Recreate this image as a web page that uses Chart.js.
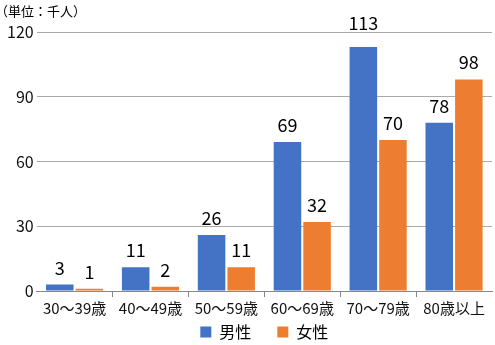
<!DOCTYPE html>
<html>
<head>
<meta charset="utf-8">
<script src="https://cdn.jsdelivr.net/npm/chart.js@4.4.1/dist/chart.umd.min.js"></script>
<style>
  html, body { margin: 0; padding: 0; background: #fff; }
  #wrap { width: 495px; height: 345px; }
</style>
</head>
<body>
<div id="wrap"><canvas id="ageChart"></canvas></div>
<script>
const categories = ['30〜39歳', '40〜49歳', '50〜59歳', '60〜69歳', '70〜79歳', '80歳以上'];
const maleValues = [3, 11, 26, 69, 113, 78];
const femaleValues = [1, 2, 11, 32, 70, 98];
const yTicks = [0, 30, 60, 90, 120];
const unitLabel = '（単位：千人）';
const seriesNames = ['男性', '女性'];

const FONT = '"Noto Sans CJK JP", "Noto Sans", sans-serif';

// 棒の上の数値
const valueLabels = {
    id: 'valueLabels',
    afterDatasetsDraw(chart) {
        const ctx = chart.ctx;
        const top = chart.chartArea.top;
        ctx.save();
        ctx.font = '18px ' + FONT;
        ctx.fillStyle = '#000';
        ctx.textAlign = 'center';
        ctx.textBaseline = 'alphabetic';
        chart.data.datasets.forEach((ds, i) => {
            chart.getDatasetMeta(i).data.forEach((bar, j) => {
                let y = bar.y - 10;
                if (y - 14 < top + 2) y = top - 2;
                ctx.fillText(String(ds.data[j]), bar.x, y);
            });
        });
        ctx.restore();
    }
};

// 単位と凡例
const extras = {
    id: 'extras',
    afterDraw(chart) {
        const ctx = chart.ctx;
        ctx.save();
        ctx.fillStyle = '#000';
        ctx.font = '13px ' + FONT;
        ctx.textBaseline = 'middle';
        ctx.textAlign = 'left';
        ctx.fillText(unitLabel, -5, 11);

        ctx.font = '16px ' + FONT;
        const box = 11, gap = 8, space = 26;
        const items = chart.data.datasets.map(ds => ({
            text: ds.label, color: ds.backgroundColor, w: box + gap + ctx.measureText(ds.label).width
        }));
        const total = items.reduce((s, it) => s + it.w, 0) + space * (items.length - 1);
        const area = chart.chartArea;
        let x = (area.left + area.right) / 2 - total / 2;
        const y = 332;
        items.forEach(it => {
            ctx.fillStyle = it.color;
            ctx.fillRect(x, y - box / 2, box, box);
            ctx.fillStyle = '#000';
            ctx.fillText(it.text, x + box + gap, y);
            x += it.w + space;
        });
        ctx.restore();
    }
};

new Chart(document.getElementById('ageChart'), {
    type: 'bar',
    data: {
        labels: categories,
        datasets: [{
            label: seriesNames[0],
            data: maleValues,
            backgroundColor: '#4472C4',
            borderWidth: 0,
            barPercentage: 0.93,
            categoryPercentage: 0.78
        }, {
            label: seriesNames[1],
            data: femaleValues,
            backgroundColor: '#ED7D31',
            borderWidth: 0,
            barPercentage: 0.93,
            categoryPercentage: 0.78
        }]
    },
    options: {
        responsive: true,
        maintainAspectRatio: false,
        animation: false,
        layout: { padding: { top: 32, right: 3, bottom: 26, left: 4 } },
        plugins: {
            legend: { display: false },
            tooltip: { enabled: false }
        },
        scales: {
            x: {
                grid: {
                    offset: true,
                    drawOnChartArea: false,
                    tickLength: 6,
                    color: ctx => (ctx.type === 'tick' && ctx.index > 0) ? '#888' : 'transparent'
                },
                border: { color: '#888' },
                ticks: { color: '#111', font: { family: FONT, size: 15 }, padding: 2 }
            },
            y: {
                min: 0,
                max: 120,
                afterBuildTicks: scale => { scale.ticks = yTicks.map(v => ({ value: v })); },
                grid: {
                    drawTicks: false,
                    color: ctx => ctx.tick && ctx.tick.value === 0 ? 'transparent' : '#aaa'
                },
                border: { display: false },
                ticks: { color: '#111', font: { family: FONT, size: 16 }, padding: 3 }
            }
        }
    },
    plugins: [valueLabels, extras]
});
</script>
</body>
</html>
